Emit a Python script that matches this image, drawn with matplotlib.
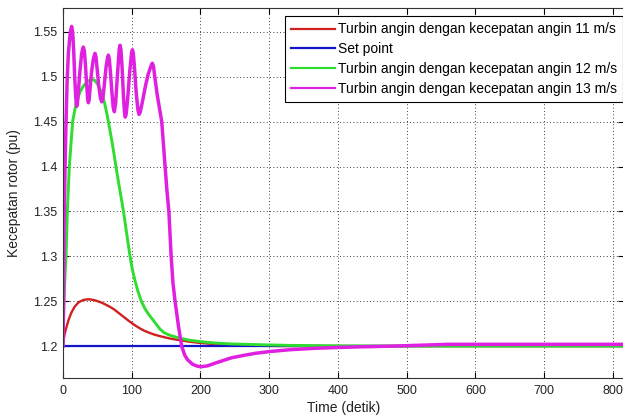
import numpy as np
import matplotlib
matplotlib.use("Agg")
import matplotlib.pyplot as plt

plt.rcParams['font.family'] = ['Liberation Sans', 'DejaVu Sans']

# rotor speed (pu) vs time (s) for each wind speed case
t_11 = [0, 1, 2.5, 5, 8, 12, 17, 23, 30, 37, 45, 55, 64, 70, 75, 80, 85, 90,
        95, 100, 106, 112, 118, 125, 133, 141, 155, 170, 185, 200, 220, 240,
        260, 280, 320, 400, 815]
v_11 = [1.200, 1.207, 1.214, 1.221, 1.229, 1.237, 1.244, 1.249, 1.2515, 1.2522,
        1.2513, 1.2488, 1.2455, 1.2430, 1.2405, 1.2375, 1.2345, 1.2315, 1.2285,
        1.2257, 1.2225, 1.2197, 1.2172, 1.2150, 1.2128, 1.2111, 1.2085, 1.2065,
        1.2048, 1.2035, 1.2023, 1.2014, 1.2008, 1.2004, 1.2001, 1.2000, 1.2000]

t_set = [0, 815]
v_set = [1.2, 1.2]

t_12 = [0, 1.5, 3, 4.4, 6.3, 9.2, 14, 19, 24.7, 30, 36, 42, 46, 50, 54, 57, 60,
        63, 66, 70, 74, 77, 80, 84, 88, 91, 94, 97.5, 101, 105, 109, 114, 119,
        124, 130, 135, 141, 147, 154, 160, 172, 185, 200, 220, 243, 280, 330,
        400, 500, 815]
v_12 = [1.200, 1.250, 1.280, 1.300, 1.350, 1.400, 1.450, 1.470, 1.483, 1.490,
        1.495, 1.497, 1.496, 1.492, 1.486, 1.480, 1.472, 1.462, 1.450, 1.433,
        1.415, 1.400, 1.386, 1.368, 1.350, 1.334, 1.318, 1.300, 1.285, 1.272,
        1.261, 1.250, 1.242, 1.236, 1.230, 1.225, 1.219, 1.215, 1.2125, 1.211,
        1.2085, 1.2065, 1.2050, 1.2035, 1.2025, 1.2017, 1.2008, 1.2003, 1.2000,
        1.2000]

t_13 = [0, 0.8, 1.5, 3, 4.4, 6, 7.8, 10, 11.2, 12.6, 14, 15.5, 17, 18.5, 19.3,
        20, 20.8, 22, 24.5, 27, 28.3, 29.6, 31, 32.5, 34.5, 35.8, 36.9, 38,
        39.5, 41.5, 44, 45.3, 46.6, 48, 49.5, 52, 54.5, 56.3, 58, 60, 62.5,
        64.8, 66, 67.3, 69, 71, 73, 74.7, 76.5, 79, 81.8, 83, 84.3, 86, 88,
        89.5, 90.5, 91.8, 94, 97, 99.8, 101, 102.3, 104, 106.5, 109, 110.6,
        112.5, 116, 120, 124, 128.5, 130, 131.5, 134, 137, 143.6, 148.5, 151,
        154, 157.3, 160, 163, 168, 172.6, 177, 181, 188, 194, 200, 210, 225,
        245, 265, 280, 301, 330, 364, 400, 432, 480, 520, 560, 815]
v_13 = [1.200, 1.250, 1.330, 1.400, 1.450, 1.495, 1.526, 1.545, 1.552, 1.556,
        1.550, 1.530, 1.500, 1.478, 1.470, 1.467, 1.469, 1.480, 1.505, 1.525,
        1.530, 1.533, 1.529, 1.515, 1.490, 1.476, 1.471, 1.474, 1.488, 1.505,
        1.519, 1.523, 1.526, 1.522, 1.510, 1.490, 1.476, 1.472, 1.476, 1.490,
        1.510, 1.521, 1.524, 1.520, 1.505, 1.484, 1.466, 1.461, 1.470, 1.500,
        1.531, 1.535, 1.530, 1.510, 1.477, 1.460, 1.455, 1.458, 1.475, 1.505,
        1.527, 1.530, 1.526, 1.510, 1.482, 1.463, 1.458, 1.461, 1.474, 1.490,
        1.503, 1.513, 1.515, 1.512, 1.497, 1.480, 1.450, 1.400, 1.375, 1.350,
        1.300, 1.270, 1.250, 1.222, 1.200, 1.190, 1.185, 1.180, 1.178, 1.177,
        1.178, 1.182, 1.187, 1.190, 1.192, 1.194, 1.196, 1.1975, 1.1985,
        1.1992, 1.2000, 1.2010, 1.2020, 1.2020]

labels = ['Turbin angin dengan kecepatan angin 11 m/s', 'Set point',
          'Turbin angin dengan kecepatan angin 12 m/s',
          'Turbin angin dengan kecepatan angin 13 m/s']

fig = plt.figure(figsize=(6.23, 4.15), dpi=100)
ax = fig.add_axes([63 / 623, 37 / 415, 561 / 623, 370 / 415])

ax.plot(t_11, v_11, color='#d02020', lw=1.7, label=labels[0])
ax.plot(t_set, v_set, color='#1414c8', lw=1.6, label=labels[1])
ax.plot(t_12, v_12, color='#30dc30', lw=2.1, label=labels[2])
ax.plot(t_13, v_13, color='#e020e0', lw=2.5, label=labels[3])

ax.set_xlim(0, 816)
ax.set_ylim(1.1645, 1.5765)
ax.set_xticks(np.arange(0, 801, 100))
ax.set_yticks([1.2, 1.25, 1.3, 1.35, 1.4, 1.45, 1.5, 1.55])
ax.set_yticklabels(['1.2', '1.25', '1.3', '1.35', '1.4', '1.45', '1.5', '1.55'])
ax.tick_params(direction='in', top=True, right=True, length=4, width=0.8,
               labelsize=9, pad=4, labelcolor='#222222')
ax.tick_params(axis='x', pad=5)
ax.grid(True, color='black', linestyle=(0, (1, 3)), linewidth=0.6)
for s in ax.spines.values():
    s.set_linewidth(0.8)
    s.set_color('#333333')

ax.set_xlabel('Time (detik)', fontsize=10, labelpad=3, color='#222222')
ax.set_ylabel('Kecepatan rotor (pu)', fontsize=10, labelpad=9, color='#222222')

leg = ax.legend(loc='upper right', bbox_to_anchor=(0.998, 0.978),
                borderaxespad=0, fontsize=10, frameon=True, fancybox=False,
                handlelength=3.2, handletextpad=0.15, labelspacing=0.42,
                borderpad=0.45, framealpha=1)
leg.get_frame().set_edgecolor('black')
leg.get_frame().set_linewidth(0.8)
for line in leg.get_lines():
    line.set_linewidth(1.6)

fig.savefig('out.png', dpi=100)
